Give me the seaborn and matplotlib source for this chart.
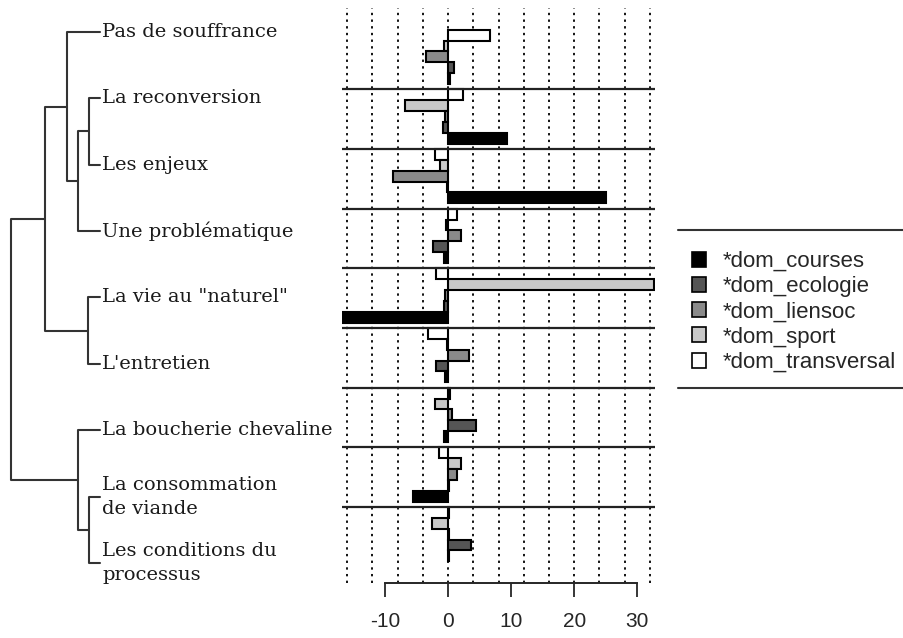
import numpy as np
import pandas as pd
import matplotlib
matplotlib.use("Agg")
import matplotlib.pyplot as plt
import seaborn as sns
from matplotlib.patches import Patch
from matplotlib.lines import Line2D
from matplotlib.ticker import MultipleLocator

# Classes (top to bottom, same order as the dendrogram leaves)
CLASSES = [
    "Pas de souffrance", "La reconversion", "Les enjeux", "Une problématique",
    'La vie au "naturel"', "L'entretien", "La boucherie chevaline",
    "La consommation\nde viande", "Les conditions du\nprocessus",
]
DOMAINES = ["*dom_courses", "*dom_ecologie", "*dom_liensoc", "*dom_sport", "*dom_transversal"]

# values, one per class
courses = [0.3, 9.4, 25.0, -0.6, -16.8, -0.4, -0.6, -5.5, 0.1]
ecologie = [0.95, -0.8, -0.2, -2.4, -0.6, -1.9, 4.4, 0.2, 3.6]
liensoc = [-3.5, -0.4, -8.7, 2.05, -0.5, 3.3, 0.7, 1.4, 0.1]
sport = [-0.7, -6.8, -1.3, -0.3, 32.7, -0.2, -2.05, 2.05, -2.5]
transversal = [6.7, 2.3, -2.05, 1.5, -1.9, -3.1, 0.3, -1.5, 0.1]

COLORS = ["#000000", "#555555", "#8a8a8a", "#c8c8c8", "#ffffff"]
TICKS = [-10, 0, 10, 20, 30]

# dendrogram merges: (child a, child b, height); ints are leaves, "mN" earlier merges
MERGES = [
    (1, 2, 11),        # m0
    ("m0", 3, 22),     # m1
    (0, "m1", 33),     # m2
    (4, 5, 12),        # m3
    ("m2", "m3", 55),  # m4
    (7, 8, 11),        # m5
    (6, "m5", 22),     # m6
    ("m4", "m6", 89),  # m7 (root)
]

sns.set_style("white")
plt.rcParams["axes.unicode_minus"] = False
plt.rcParams["font.family"] = ["Liberation Sans", "DejaVu Sans"]

values = {"*dom_courses": courses, "*dom_ecologie": ecologie, "*dom_liensoc": liensoc,
          "*dom_sport": sport, "*dom_transversal": transversal}
rows = []
for dom, vals in values.items():
    for cl, v in zip(CLASSES, vals):
        rows.append({"classe": cl, "domaine": dom, "valeur": v})
df = pd.DataFrame(rows)
palette = dict(zip(DOMAINES, COLORS))

W, H = 904, 638
fig = plt.figure(figsize=(W / 100, H / 100), dpi=100)
bottom, top = 1 - 583 / H, 1 - 8 / H

# --- bar chart ---
ax = fig.add_axes([342 / W, bottom, 313 / W, top - bottom])
group_w = 5 / 5.5
sns.barplot(data=df, y="classe", x="valeur", hue="domaine", orient="h",
            order=CLASSES, hue_order=DOMAINES[::-1], palette=palette,
            width=group_w, edgecolor="black", linewidth=1.5, errorbar=None,
            legend=False, ax=ax)
ax.set_xlim(-16.8, 32.8)
ax.set_ylim(len(CLASSES) - 1 + 0.82, -0.82)
ax.set_xlabel("")
ax.set_ylabel("")
ax.set_yticks([])
ax.set_xticks(TICKS)
ax.set_xticklabels([str(t) for t in TICKS], fontsize=15)
ax.xaxis.set_minor_locator(MultipleLocator(4))
ax.xaxis.remove_overlapping_locs = False
ax.grid(which="minor", axis="x", color="black", linestyle=(0, (1.3, 2.4)), linewidth=1.3)
ax.grid(which="major", axis="x", visible=False)
ax.set_axisbelow(True)
for k in range(1, len(CLASSES)):
    ax.axhline(k - group_w / 2, color="#222222", linewidth=1.6, zorder=3)
for s in ["top", "right", "left"]:
    ax.spines[s].set_visible(False)
ax.spines["bottom"].set_bounds(TICKS[0], TICKS[-1])
ax.spines["bottom"].set_linewidth(1.4)
ax.tick_params(axis="x", which="major", bottom=True, direction="out",
               length=10, width=1.3, pad=11)
ax.tick_params(axis="x", which="minor", length=0)

# --- dendrogram ---
dax = fig.add_axes([0, bottom, 100 / W, top - bottom])
dax.set_xlim(100, 0)
dax.set_ylim(len(CLASSES) - 1 + 0.30, -0.36)
dax.axis("off")

nodes = {i: (i, 0) for i in range(len(CLASSES))}
for k, (a, b, h) in enumerate(MERGES):
    ya, ha = nodes[a]
    yb, hb = nodes[b]
    dax.plot([ha, h, h, hb], [ya, ya, yb, yb], color="#333333", linewidth=1.5, clip_on=False)
    nodes[f"m{k}"] = ((ya + yb) / 2, h)

for i, cl in enumerate(CLASSES):
    dax.text(-2, i, cl, ha="left", va="center", fontsize=14, family="DejaVu Serif",
             color="#1a1a1a", linespacing=1.45, clip_on=False)

# --- legend ---
handles = [Patch(facecolor=palette[d], edgecolor="black", linewidth=1.2, label=d) for d in DOMAINES]
fig.legend(handles=handles, loc="upper left", bbox_to_anchor=(692 / W, 1 - 251 / H),
           frameon=False, fontsize=16, handlelength=0.65, handleheight=0.65,
           handletextpad=0.75, labelspacing=0.19, borderpad=0, borderaxespad=0)
for ypx in [230, 388]:
    fig.add_artist(Line2D([678 / W, 1], [1 - ypx / H] * 2, transform=fig.transFigure,
                          color="#333333", linewidth=1.5))

fig.savefig("out.png", dpi=100)
